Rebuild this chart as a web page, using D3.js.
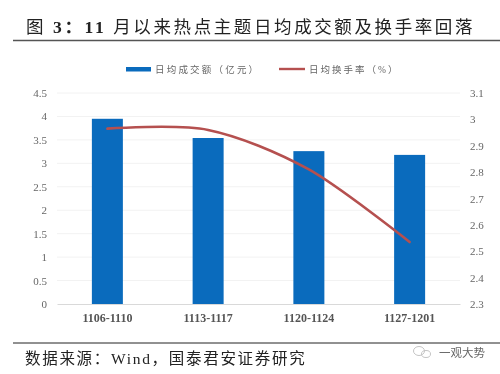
<!DOCTYPE html>
<html>
<head>
<meta charset="utf-8">
<script src="https://cdn.jsdelivr.net/npm/d3@7"></script>
<style>
body { margin: 0; background: #fff; }
svg { display: block; font-family: "Liberation Serif", "Noto Sans CJK SC", serif; filter: blur(0.3px); }
</style>
</head>
<body>
<svg width="500" height="374"></svg>
<script>
const categories = ['1106-1110', '1113-1117', '1120-1124', '1127-1201'];
const turnover = [3.95, 3.54, 3.26, 3.18];
const turnoverRate = [2.965, 2.96, 2.81, 2.535];
const leftTicks = [0, 0.5, 1, 1.5, 2, 2.5, 3, 3.5, 4, 4.5];
const rightTicks = [2.3, 2.4, 2.5, 2.6, 2.7, 2.8, 2.9, 3, 3.1];

const titleParts = ['图 ', '3：11', ' 月以来热点主题日均成交额及换手率回落'];
const sourceText = '数据来源：Wind，国泰君安证券研究';
const barName = '日均成交额（亿元）';
const lineName = '日均换手率（%）';

const svg = d3.select('svg');
const area = { left: 57, right: 460, top: 93, bottom: 304 };

const scaleX = d3.scaleBand()
                 .domain(categories)
                 .range([area.left, area.right]);
const scaleY = d3.scaleLinear()
                 .domain([0, 4.5])
                 .range([area.bottom, area.top]);
const scaleY2 = d3.scaleLinear()
                  .domain([2.3, 3.1])
                  .range([area.bottom, area.top]);

// title and rules, only the numbers are bold
svg.append('text')
   .attr('x', 26)
   .attr('y', 33)
   .attr('font-size', 17.5)
   .attr('letter-spacing', 2.6)
   .attr('fill', '#222')
   .selectAll('tspan')
   .data(titleParts)
   .enter()
   .append('tspan')
   .attr('font-weight', (d, i) => i === 1 ? 'bold' : 'normal')
   .text(d => d);

svg.append('line')
   .attr('x1', 13).attr('x2', 500)
   .attr('y1', 40.5).attr('y2', 40.5)
   .attr('stroke', '#555')
   .attr('stroke-width', 1.4);

svg.append('line')
   .attr('x1', 13).attr('x2', 500)
   .attr('y1', 343).attr('y2', 343)
   .attr('stroke', '#222')
   .attr('stroke-width', 1);

// grid
svg.append('g')
   .selectAll('line')
   .data(leftTicks.slice(1))
   .enter()
   .append('line')
   .attr('x1', area.left)
   .attr('x2', area.right)
   .attr('y1', d => scaleY(d))
   .attr('y2', d => scaleY(d))
   .attr('stroke', '#f2f2f2');

// axes
const axisLeft = d3.axisLeft(scaleY).tickValues(leftTicks).tickFormat(d => String(d)).tickSize(0).tickPadding(10);
const axisRight = d3.axisRight(scaleY2).tickValues(rightTicks).tickFormat(d => String(d)).tickSize(0).tickPadding(10);
const axisBottom = d3.axisBottom(scaleX).tickSize(0).tickPadding(9);

const gLeft = svg.append('g')
   .attr('transform', `translate(${area.left}, 0)`)
   .call(axisLeft);
const gRight = svg.append('g')
   .attr('transform', `translate(${area.right}, 0)`)
   .call(axisRight);

// bars
svg.selectAll('.bar')
   .data(categories)
   .enter()
   .append('rect')
   .attr('class', 'bar')
   .attr('x', d => scaleX(d) + scaleX.bandwidth() / 2 - 15.5)
   .attr('y', (d, i) => scaleY(turnover[i]))
   .attr('width', 31)
   .attr('height', (d, i) => area.bottom - scaleY(turnover[i]))
   .style('fill', '#0a6bbd');

const gBottom = svg.append('g')
   .attr('transform', `translate(0, ${area.bottom})`)
   .call(axisBottom);

gBottom.select('.domain').attr('stroke', '#d9d9d9');
gLeft.select('.domain').remove();
gRight.select('.domain').remove();

gLeft.selectAll('text').attr('font-size', 11).attr('font-family', 'Liberation Serif').attr('fill', '#666');
gRight.selectAll('text').attr('font-size', 11).attr('font-family', 'Liberation Serif').attr('fill', '#666');
gBottom.selectAll('text')
       .attr('font-size', 12)
       .attr('font-family', 'Liberation Serif')
       .attr('font-weight', 'bold')
       .attr('fill', '#555');

// line
const line = d3.line()
               .x((d, i) => scaleX(categories[i]) + scaleX.bandwidth() / 2)
               .y(d => scaleY2(d))
               .curve(d3.curveCardinal.tension(0.1));

svg.append('path')
   .datum(turnoverRate)
   .attr('d', line)
   .attr('fill', 'none')
   .attr('stroke', '#b5504f')
   .attr('stroke-width', 2.6)
   .attr('stroke-linecap', 'round');

// legend
svg.append('rect')
   .attr('x', 126).attr('y', 67)
   .attr('width', 25).attr('height', 4.5)
   .style('fill', '#0a6bbd');
svg.append('text')
   .attr('x', 155).attr('y', 73)
   .attr('font-size', 9.5)
   .attr('letter-spacing', 2.2)
   .attr('fill', '#666')
   .text(barName);
svg.append('line')
   .attr('x1', 279).attr('x2', 305)
   .attr('y1', 69).attr('y2', 69)
   .attr('stroke', '#b5504f')
   .attr('stroke-width', 2.4);
svg.append('text')
   .attr('x', 309).attr('y', 73)
   .attr('font-size', 9.5)
   .attr('letter-spacing', 2)
   .attr('fill', '#666')
   .text(lineName);

// source and watermark
svg.append('text')
   .attr('x', 25)
   .attr('y', 364)
   .attr('font-size', 15.5)
   .attr('letter-spacing', 1.7)
   .attr('fill', '#222')
   .text(sourceText);

const mark = svg.append('g').attr('fill', 'none').attr('stroke', '#c4c4c4');
mark.append('ellipse').attr('cx', 419).attr('cy', 351).attr('rx', 5.5).attr('ry', 4.5);
mark.append('ellipse').attr('cx', 426).attr('cy', 354).attr('rx', 4.5).attr('ry', 3.5);

svg.append('text')
   .attr('x', 439)
   .attr('y', 357)
   .attr('font-size', 11.5)
   .attr('fill', '#666')
   .text('一观大势');
</script>
</body>
</html>
